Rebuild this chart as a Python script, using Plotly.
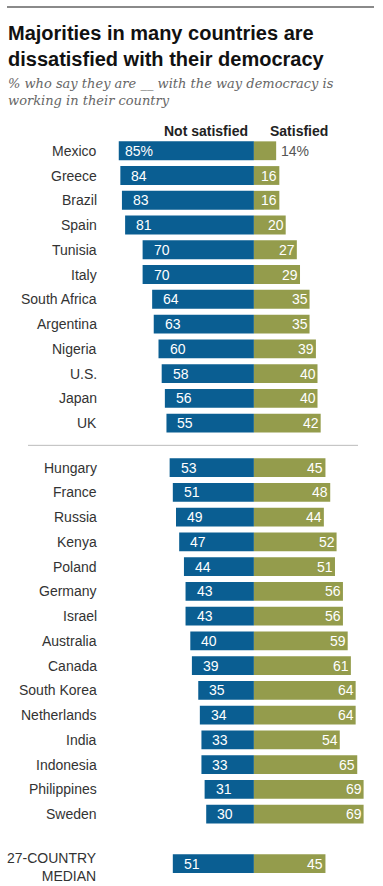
import plotly.graph_objects as go

countries_top = ["Mexico", "Greece", "Brazil", "Spain", "Tunisia", "Italy", "South Africa",
                 "Argentina", "Nigeria", "U.S.", "Japan", "UK"]
not_sat_top = [85, 84, 83, 81, 70, 70, 64, 63, 60, 58, 56, 55]
sat_top = [14, 16, 16, 20, 27, 29, 35, 35, 39, 40, 40, 42]

countries_bottom = ["Hungary", "France", "Russia", "Kenya", "Poland", "Germany", "Israel",
                    "Australia", "Canada", "South Korea", "Netherlands", "India", "Indonesia",
                    "Philippines", "Sweden"]
not_sat_bottom = [53, 51, 49, 47, 44, 43, 43, 40, 39, 35, 34, 33, 33, 31, 30]
sat_bottom = [45, 48, 44, 52, 51, 56, 56, 59, 61, 64, 64, 54, 65, 69, 69]

median_label = "27-COUNTRY<br>MEDIAN"
median_not_sat = 51
median_sat = 45

title_text = "Majorities in many countries are<br>dissatisfied with their democracy"
subtitle_text = "% who say they are __ with the way democracy is<br>working in their country"
header_not = "Not satisfied"
header_sat = "Satisfied"

BLUE = "#0a5e92"
GREEN = "#949c4c"
W, H = 383, 886
MT, MB = 126, 5
Y0, Y1 = -1.0, 29.5
SANS = "Liberation Sans, Arial, sans-serif"

labels = countries_top + countries_bottom + [median_label]
ns = not_sat_top + not_sat_bottom + [median_not_sat]
sa = sat_top + sat_bottom + [median_sat]
ys = list(range(len(countries_top)))
ys += [len(countries_top) + 0.8 + j for j in range(len(countries_bottom))]
ys += [ys[-1] + 2.0]

fig = go.Figure()
fig.add_trace(go.Bar(y=ys, x=[-v for v in ns], orientation="h", base=0,
                     marker=dict(color=BLUE, line=dict(width=0)), width=0.76,
                     hoverinfo="skip"))
fig.add_trace(go.Bar(y=ys, x=sa, orientation="h", base=0,
                     marker=dict(color=GREEN, line=dict(width=0)), width=0.76,
                     hoverinfo="skip"))

def py(px):
    return 1 - (px - MT) / (H - MT - MB)

ann = []
LBL = dict(family=SANS, size=14, color="#333333")
VAL = dict(family=SANS, size=14, color="white")
for i, (lab, y, n, s) in enumerate(zip(labels, ys, ns, sa)):
    ann.append(dict(x=99 / W, xref="paper", y=y + (0.12 if i == len(labels) - 1 else 0),
                    yref="y", text=lab, showarrow=False,
                    xanchor="right", yanchor="middle", align="right", font=LBL))
    ann.append(dict(x=-n, xref="x", y=y, yref="y", text=f"{n}%" if i == 0 else str(n),
                    showarrow=False, xanchor="left", yanchor="middle",
                    xshift=4 if i == 0 else 9, font=VAL))
    if i == 0:
        ann.append(dict(x=s, xref="x", y=y, yref="y", text=f"{s}%", showarrow=False,
                        xanchor="left", yanchor="middle", xshift=3,
                        font=dict(family=SANS, size=14, color="#555555")))
    else:
        ann.append(dict(x=s, xref="x", y=y, yref="y", text=str(s), showarrow=False,
                        xanchor="right", yanchor="middle", xshift=0, font=VAL))

ann.append(dict(x=0, xref="x", y=-0.8, yref="y", text=f"<b>{header_not}</b>", showarrow=False,
                xanchor="right", yanchor="middle", xshift=-4,
                font=dict(family=SANS, size=14, color="#222222")))
ann.append(dict(x=0, xref="x", y=-0.8, yref="y", text=f"<b>{header_sat}</b>", showarrow=False,
                xanchor="left", yanchor="middle", xshift=14,
                font=dict(family=SANS, size=14, color="#222222")))
ann.append(dict(x=6 / W, xref="paper", y=py(20), yref="paper", text=f"<b>{title_text}</b>",
                showarrow=False, xanchor="left", yanchor="top", align="left",
                font=dict(family=SANS, size=20, color="#111111")))
ann.append(dict(x=6 / W, xref="paper", y=py(74), yref="paper", text=f"<i>{subtitle_text}</i>",
                showarrow=False, xanchor="left", yanchor="top", align="left",
                font=dict(family="DejaVu Serif, Georgia, serif", size=13, color="#666666")))

sep_y = (ys[len(countries_top) - 1] + ys[len(countries_top)]) / 2
shapes = [
    dict(type="line", xref="paper", yref="y", x0=28 / W, x1=358 / W, y0=sep_y, y1=sep_y,
         line=dict(color="#bbbbbb", width=1)),
    dict(type="line", xref="paper", yref="paper", x0=7 / W, x1=374 / W, y0=py(7), y1=py(7),
         line=dict(color="#8a8a8a", width=2)),
]

fig.update_layout(
    width=W, height=H, barmode="overlay", showlegend=False,
    margin=dict(l=0, r=0, t=MT, b=MB),
    paper_bgcolor="white", plot_bgcolor="white",
    xaxis=dict(range=[-159.7, 81.2], visible=False, fixedrange=True),
    yaxis=dict(range=[Y1, Y0], visible=False, fixedrange=True),
    annotations=ann, shapes=shapes,
)
fig.write_html("out.html", config={"displayModeBar": False},
               post_script="document.body.style.margin='0';document.documentElement.style.margin='0';")
